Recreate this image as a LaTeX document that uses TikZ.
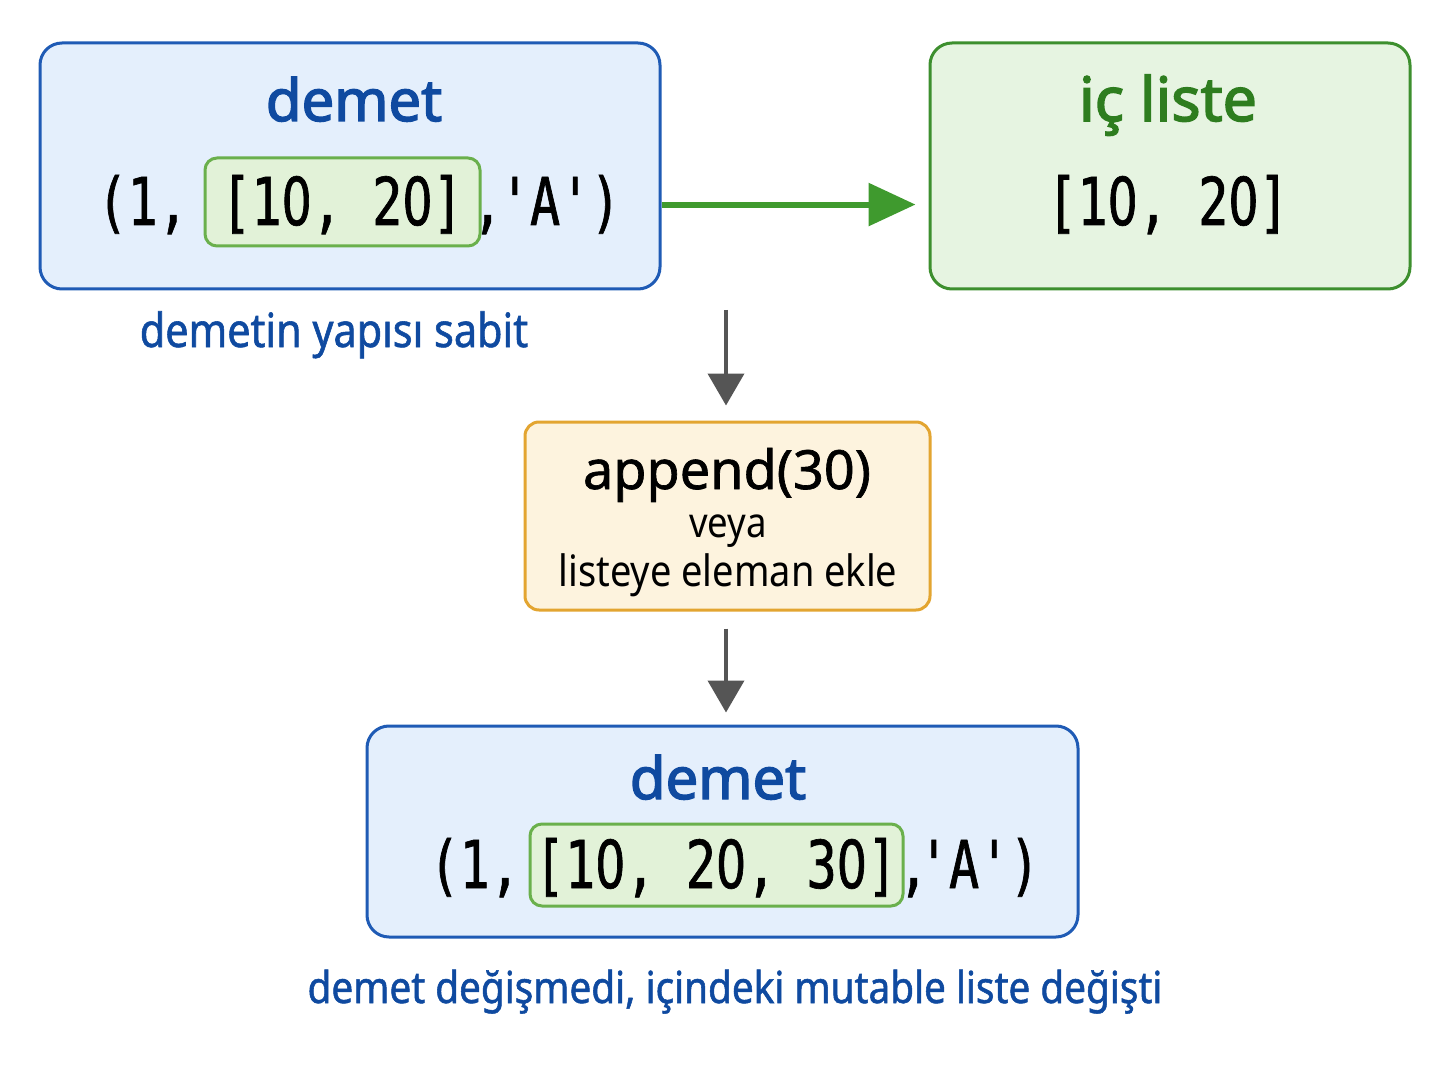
\documentclass[tikz,border=0pt]{standalone}
\usepackage{fontspec}
\setmainfont{Noto Sans}
\newfontfamily\codefont{DejaVu Sans Mono}[FakeStretch=0.76,FakeBold=1]
\newfontfamily\zerofont{DejaVu Sans}[FakeStretch=0.719,FakeBold=1]
\newcommand\zro{{\zerofont 0}}
\newfontfamily\semifont{Noto Sans}[FakeBold=1.2]
\newfontfamily\sansc{Noto Sans}[FakeStretch=0.88]
\newfontfamily\sanscb{Noto Sans}[FakeStretch=0.88,FakeBold=1.2]
\newfontfamily\titlefont{Noto Sans}[FakeBold=2.5]
\usetikzlibrary{arrows.meta}
\definecolor{bluebd}{HTML}{1F5BB5}
\definecolor{bluefill}{HTML}{E4EFFC}
\definecolor{bluetxt}{HTML}{0F4AA0}
\definecolor{greenbd}{HTML}{3D8F2E}
\definecolor{greenfill}{HTML}{E6F4E1}
\definecolor{greentxt}{HTML}{2E7D1F}
\definecolor{innerbd}{HTML}{6AB04C}
\definecolor{innerfill}{HTML}{E2F2D8}
\definecolor{arrgreen}{HTML}{3F9A2E}
\definecolor{orangebd}{HTML}{E3A531}
\definecolor{orangefill}{HTML}{FDF3DE}
\definecolor{greyarr}{HTML}{555555}
\begin{document}
\begin{tikzpicture}[x=0.5pt,y=-0.5pt,
  box/.style={draw, line width=1.5pt, rounded corners=11pt, inner sep=0pt},
  bluebox/.style={box, draw=bluebd, fill=bluefill},
  greenbox/.style={box, draw=greenbd, fill=greenfill},
  innerbox/.style={draw=innerbd, fill=innerfill, line width=1.5pt, rounded corners=6pt, inner sep=0pt},
  orangebox/.style={box, draw=orangebd, fill=orangefill, rounded corners=7pt},
  title/.style={font=\titlefont\fontsize{29}{33}\selectfont, inner sep=0pt, anchor=base},
  code/.style={font=\codefont\fontsize{33}{38}\selectfont, inner sep=0pt, anchor=base},
  lbl/.style={text=bluetxt, inner sep=0pt, anchor=base},
  greyarrow/.style={draw=greyarr, line width=2pt, -{Triangle[length=16pt,width=18pt]}, color=greyarr},
]
\useasboundingbox (0,0) rectangle (1448,1086);
\fill[white] (0,0) rectangle (1448,1086);

% top-left tuple box
\node[bluebox, minimum width=310pt, minimum height=123pt] (b1) at (350,166) {};
\node[title, text=bluetxt] (t1) at (354,121) {demet};
\node[innerbox, minimum width=137.5pt, minimum height=44pt] (i1) at (342.5,202) {};
\node[code, anchor=base west] (c1a) at (97,225) {(1,};
\node[code] (c1b) at (342,225) {[1\zro, 2\zro]};
\node[code, anchor=base west] (c1c) at (472,225) {,};
\node[code, anchor=base east] (c1d) at (621,225) {'A')};

% inner list box
\node[greenbox, minimum width=240pt, minimum height=123pt] (b2) at (1170,166) {};
\node[title, text=greentxt, font=\titlefont\fontsize{30.5}{34}\selectfont] (t2) at (1168,121) {iç liste};
\node[code] (c2) at (1168,225) {[1\zro, 2\zro]};

% green arrow
\draw[arrgreen, line width=3pt, -{Triangle[length=23.5pt,width=21pt]}, shorten >=6.5pt]
  (b1.east |- c1b.center) -- (b2.west |- c1b.center);

% label under box 1
\node[lbl, font=\sanscb\fontsize{23.5}{28}\selectfont] (l1) at (334,347) {demetin yapısı sabit};

% append box
\coordinate (a1s) at (726,310);
\node[orangebox, minimum width=202.5pt, minimum height=94pt] (ob) at (727.5,516) {};
\node[font=\semifont\fontsize{27}{32}\selectfont, inner sep=0pt, anchor=base] (ap) at (727,489) {append(30)};
\node[font=\sansc\fontsize{20.8}{24}\selectfont, inner sep=0pt, anchor=base] (ve) at (728,537) {veya};
\node[font=\sansc\fontsize{21.6}{26}\selectfont, inner sep=0pt, anchor=base] (le) at (728,586) {listeye eleman ekle};

\draw[greyarrow, shorten >=7.5pt] (a1s) -- (a1s |- ob.north);

% bottom tuple box
\node[bluebox, minimum width=355.5pt, minimum height=105.5pt] (b3) at (722.5,831.5) {};
\node[title, text=bluetxt] (t3) at (718,799) {demet};
\node[innerbox, minimum width=186.5pt, minimum height=41pt] (i3) at (716.5,865) {};
\node[code, anchor=base west] (c3a) at (429,888) {(1,};
\node[code] (c3b) at (716,888) {[1\zro, 2\zro, 3\zro]};
\node[code, anchor=base west] (c3c) at (898,888) {,};
\node[code, anchor=base east] (c3d) at (1040,888) {'A')};

\draw[greyarrow, shorten <=8.5pt, shorten >=6pt] (a1s |- ob.south) -- (a1s |- b3.north);

% bottom label
\node[lbl, font=\sanscb\fontsize{22}{26}\selectfont] (l2) at (735,1003) {demet değişmedi, içindeki mutable liste değişti};
\end{tikzpicture}
\end{document}
